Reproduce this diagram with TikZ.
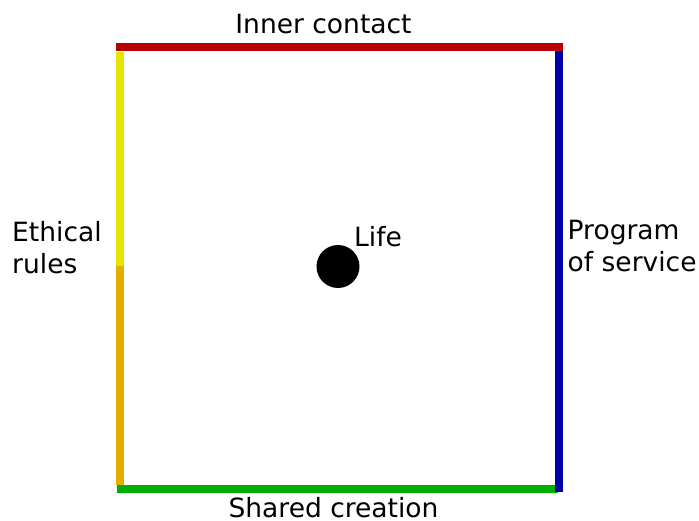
\documentclass[tikz,border=0pt]{standalone}
\usepackage{fontspec}
\setmainfont{DejaVu Sans}
\usetikzlibrary{positioning}

\begin{document}
\begin{tikzpicture}[x=1pt, y=-1pt, font=\fontsize{26.5}{32}\selectfont,
		side/.style={line width=8pt},
		label text/.style={inner sep=0pt, align=left}]
			\definecolor{sidered}{RGB}{183, 0, 0}
			\definecolor{sideblue}{RGB}{0, 0, 170}
			\definecolor{sidegreen}{RGB}{0, 175, 0}
			\definecolor{sideyellow}{RGB}{228, 228, 0}
			\definecolor{sideorange}{RGB}{228, 174, 0}

			\useasboundingbox (0,0) rectangle (699,521);

			% 四角与中点
			\coordinate (tl) at (116,47.5);
			\coordinate (tr) at (563,47.5);
			\coordinate (rt) at (558.5,51);
			\coordinate (rb) at (558.5,492);
			\coordinate (bl) at (117,489);
			\coordinate (br) at (558,489);
			\coordinate (lt) at (120,52);
			\coordinate (lm) at (120,266);
			\coordinate (lb) at (120,485);

			% 四条边
			\draw[side, sideyellow] (lt) -- (lm);
			\draw[side, sideorange] (lm) -- (lb);
			\draw[side, sidegreen] (bl) -- (br);
			\draw[side, sideblue] (rt) -- (rb);
			\draw[side, sidered] (tl) -- (tr);

			% 中心点
			\fill (338,266.5) circle (21.5);
			\node[label text, anchor=base west] (life) at (354,246.5) {Life};

			% 标签
			\node[label text, anchor=base] (inner) at (323.5,34) {Inner contact};
			\node[label text, anchor=base] (shared) at (333.5,517.5) {Shared creation};
			\node[label text, anchor=north west] (ethical) at (12,221.5) {Ethical\\rules};
			\node[label text, anchor=north west] (program) at (567.5,219.5) {Program\\of service};
		\end{tikzpicture}
\end{document}
